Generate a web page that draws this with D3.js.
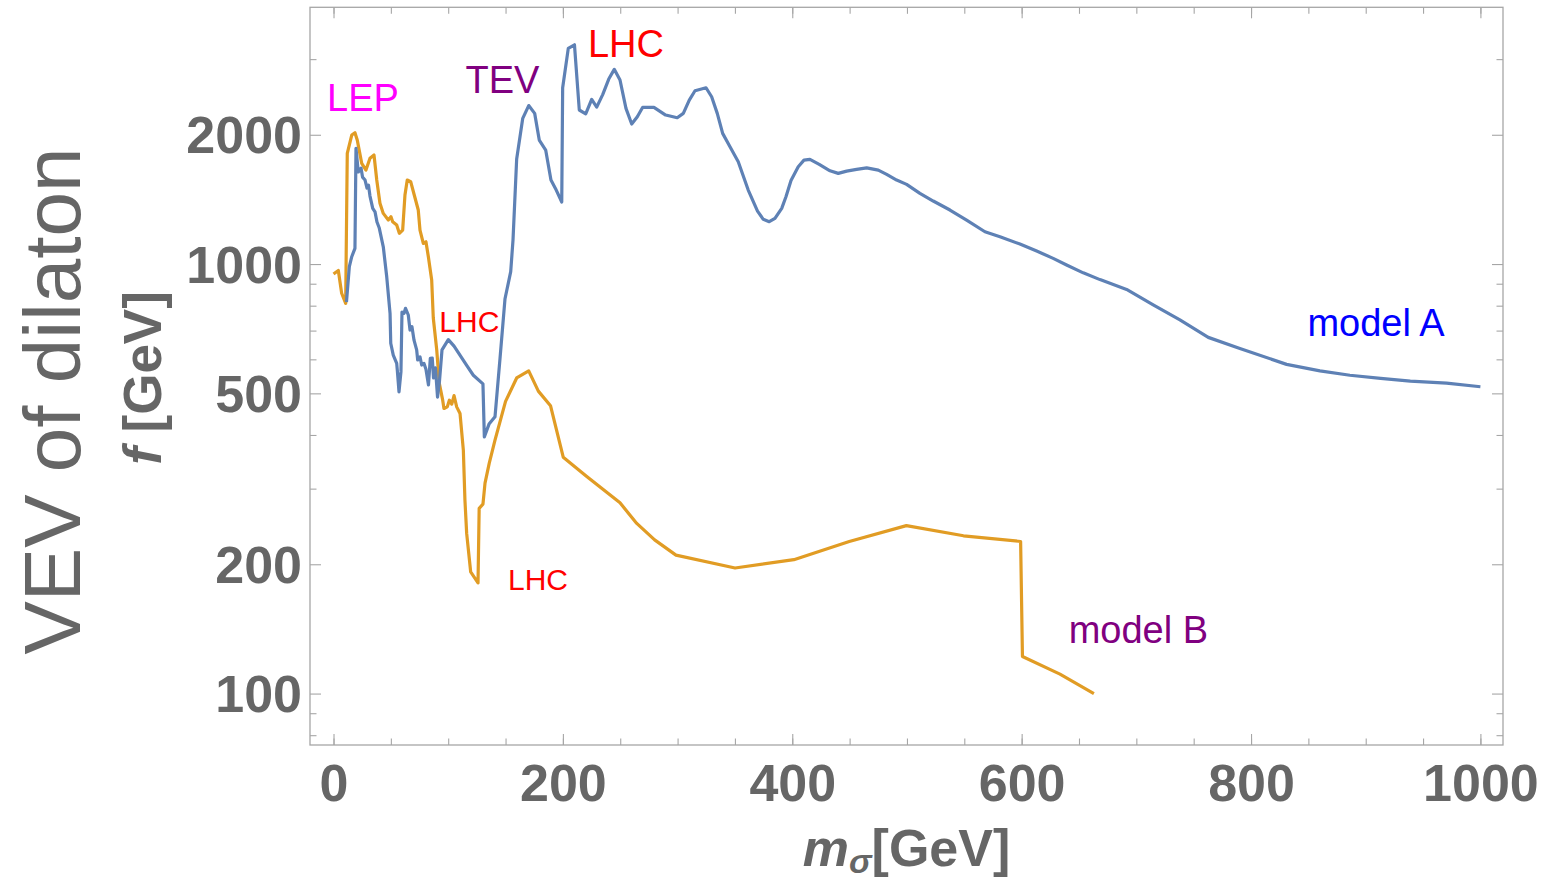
<!DOCTYPE html>
<html>
<head>
<meta charset="utf-8">
<script src="https://cdn.jsdelivr.net/npm/d3@7"></script>
<style>
  html, body { margin: 0; padding: 0; background: #fff; }
  svg { display: block; font-family: "Liberation Sans", Arial, Helvetica, sans-serif; }
</style>
</head>
<body>
<svg id="chart" width="1543" height="886"></svg>
<script>
// ---------------- data ----------------
const modelA_mass = [11.3,13.8,15.9,18.7,19.6,21.6,24.0,25.3,27.5,29.2,30.5,31.8,34.2,36.2,37.9,39.9,43.4,46.4,49.3,
  49.9,52.1,55.1,55.6,57.1,58.8,59.7,61.5,62.8,65.2,66.7,68.4,70.2,72.5,73.4,75.4,76.9,78.9,80.6,82.8,84.4,86.1,87.2,88.9,90.7,92.4,94.6,
  100.1,105.1,116.4,121.9,130.3,131.5,135.6,140.8,145.2,149.5,154.5,156.5,159.7,165,170.2,175.4,179.4,185,189.6,194.2,199,
  199.8,204.7,210.1,214.3,219.9,225.1,229.5,234.7,240,244.8,249.8,255,260,264.9,269.6,279.4,289.6,299.7,305,310.2,315.2,324.8,
  329.7,334.6,339.3,345.7,352.9,361.6,369.7,374.7,379.9,384.9,390.8,394.5,398.9,405.2,410.2,415.4,423.5,432.9,440.1,447.4,
  456.1,464.9,475,482.3,491,499.7,511.3,522.9,537.5,552,568,581.1,598.5,613.1,627.5,639.2,653.7,668.3,691.5,714.7,738,762.7,
  790.3,831,860.1,886.2,913,938.9,970.5,1000];
const modelA_f = [815,986,1040,1088,1860,1638,1673,1594,1569,1503,1527,1440,1348,1323,1253,1213,1097,934,768,
  654,614,587,567,504,561,773,768,789,761,702,715,665,631,598,608,582,587,569,523,603,604,543,573,490,534,631,
  667,644,579,551,526,396,424,441,604,829,960,1137,1756,2184,2339,2243,1944,1843,1569,1487,1395,
  2572,3178,3240,2284,2238,2418,2320,2481,2696,2840,2682,2304,2118,2203,2317,2317,2223,2191,2243,2409,2532,2573,
  2452,2243,2015,1876,1731,1487,1328,1271,1255,1278,1348,1435,1565,1685,1746,1753,1707,1649,1626,1646,
  1661,1675,1655,1617,1569,1533,1461,1402,1336,1266,1189,1158,1113,1072,1031,995,954,920,873,803,741,675,
  636,584,564,551,542,534,528,518];

const modelB_mass = [0,4.2,7.1,10.6,12.0,15.9,18.7,20.7,24.6,28.3,31.8,35.3,37.7,40.5,43.4,47.8,50.1,51.6,55.1,57.4,60.3,
  62.3,64.3,67.3,70.4,73.9,75.4,78.3,80.6,82.7,85.6,87.0,90.0,92.2,95.2,96.3,99.2,101.0,103.1,105.1,107.4,110.3,113.2,114.6,
  116.1,119.6,126.0,127.0,130.3,132.1,135.8,140.8,150,159.7,170.2,178.6,189.2,200.3,220.8,249.8,264.4,280,298.6,350.1,401.4,
  449.7,499.5,549.3,599.1,600.7,633.4,663];
const modelB_f = [948,966,855,810,1810,1997,2022,1944,1716,1655,1763,1794,1569,1385,1312,1266,1289,1255,1233,1179,1200,
  1448,1569,1555,1448,1336,1200,1117,1127,1040,918,749,631,528,482,461,465,482,472,494,465,449,369,282,
  236,192,181,270,276,309,344,389,479,543,564,506,468,355,320,278,249,228,210,196,205,
  226,246,233,226,122,111,100];

const xMajorTicks = [0, 200, 400, 600, 800, 1000];
const xMinorTicks = [0,50,100,150,200,250,300,350,400,450,500,550,600,650,700,750,800,850,900,950,1000];
const yMajorTicks = [100, 200, 500, 1000, 2000];
const yMinorTicks = [80, 90, 300, 400, 600, 700, 800, 900, 3000];

const annotations = [
  {text: "LEP",     mass: 25.7,  f: 2271, color: "#FF00FF", big: true},
  {text: "TEV",     mass: 147.3, f: 2497, color: "#800080", big: true},
  {text: "LHC",     mass: 255,   f: 3039, color: "#FF0000", big: true},
  {text: "LHC",     mass: 118.4, f: 693,  color: "#FF0000", big: false},
  {text: "LHC",     mass: 178.3, f: 174,  color: "#FF0000", big: false},
  {text: "model A", mass: 909,   f: 680,  color: "#0000FF", big: true},
  {text: "model B", mass: 701.8, f: 131,  color: "#800080", big: true}
];

// ---------------- layout ----------------
const L = 310, R = 1503, T = 7.3, B = 745;
const svg = d3.select("#chart");
const x = d3.scaleLinear().domain([-20.5, 1019.7]).range([L, R]);
const y = d3.scaleLog().domain([75.9, 3961]).range([B, T]);

const gray = "#666666";
const frameColor = "#a6a6a6";

// frame
svg.append("rect").attr("x", L).attr("y", T).attr("width", R - L).attr("height", B - T)
  .attr("fill", "none").attr("stroke", frameColor).attr("stroke-width", 1.3);

function styleAxis(g) {
  g.select(".domain").remove();
  g.selectAll(".tick line").attr("stroke", frameColor).attr("stroke-width", 1.1);
}

// minor ticks (all four sides)
svg.append("g").attr("transform", `translate(0,${B})`)
  .call(d3.axisBottom(x).tickValues(xMinorTicks).tickSize(-6.5).tickFormat(""))
  .call(styleAxis);
svg.append("g").attr("transform", `translate(0,${T})`)
  .call(d3.axisTop(x).tickValues(xMinorTicks).tickSize(-6.5).tickFormat(""))
  .call(styleAxis);
svg.append("g").attr("transform", `translate(${L},0)`)
  .call(d3.axisLeft(y).tickValues(yMinorTicks).tickSize(-6.5).tickFormat(""))
  .call(styleAxis);
svg.append("g").attr("transform", `translate(${R},0)`)
  .call(d3.axisRight(y).tickValues(yMinorTicks).tickSize(-6.5).tickFormat(""))
  .call(styleAxis);

// major ticks
const xb = svg.append("g").attr("transform", `translate(0,${B})`)
  .call(d3.axisBottom(x).tickValues(xMajorTicks).tickSize(-11).tickPadding(19).tickFormat(d3.format("d")))
  .call(styleAxis);
svg.append("g").attr("transform", `translate(0,${T})`)
  .call(d3.axisTop(x).tickValues(xMajorTicks).tickSize(-11).tickFormat(""))
  .call(styleAxis);
const yl = svg.append("g").attr("transform", `translate(${L},0)`)
  .call(d3.axisLeft(y).tickValues(yMajorTicks).tickSize(-11).tickPadding(8).tickFormat(d3.format("d")))
  .call(styleAxis);
svg.append("g").attr("transform", `translate(${R},0)`)
  .call(d3.axisRight(y).tickValues(yMajorTicks).tickSize(-11).tickFormat(""))
  .call(styleAxis);

[xb, yl].forEach(g => g.selectAll(".tick text")
  .attr("fill", gray).style("font-size", "52px").style("font-weight", "bold")
  .style("font-family", '"Liberation Sans", Arial, sans-serif'));
yl.selectAll(".tick text").attr("dy", "0.35em");

// lines
const line = d3.line().x(d => x(d[0])).y(d => y(d[1]));
const dataA = modelA_mass.map((m, i) => [m, modelA_f[i]]);
const dataB = modelB_mass.map((m, i) => [m, modelB_f[i]]);

svg.append("path").datum(dataB).attr("d", line)
  .attr("fill", "none").attr("stroke", "#E19C24").attr("stroke-width", 3.2)
  .attr("stroke-linejoin", "round");
svg.append("path").datum(dataA).attr("d", line)
  .attr("fill", "none").attr("stroke", "#5E81B5").attr("stroke-width", 3.2)
  .attr("stroke-linejoin", "round");

// annotations
svg.selectAll("text.anno").data(annotations).enter().append("text")
  .attr("class", "anno")
  .attr("x", d => x(d.mass)).attr("y", d => y(d.f))
  .attr("text-anchor", "middle")
  .attr("fill", d => d.color)
  .style("font-size", d => d.big ? "38px" : "30px")
  .text(d => d.text);

// axis titles
const xt = svg.append("text").attr("x", (L + R) / 2).attr("y", 866)
  .attr("text-anchor", "middle").attr("fill", gray)
  .style("font-size", "52px").style("font-weight", "bold");
xt.append("tspan").style("font-style", "italic").text("m");
xt.append("tspan").style("font-style", "italic").style("font-size", "34px").attr("dy", 7).text("σ");
xt.append("tspan").attr("dy", -7).text("[GeV]");

const yt = svg.append("text").attr("transform", "translate(161,378) rotate(-90)")
  .attr("text-anchor", "middle").attr("fill", gray)
  .style("font-size", "53px").style("font-weight", "bold");
yt.append("tspan").style("font-style", "italic").text("f");
yt.append("tspan").text(" [GeV]");

svg.append("text").attr("transform", "translate(80,401) rotate(-90)")
  .attr("text-anchor", "middle").attr("fill", gray)
  .style("font-size", "80px")
  .text("VEV of dilaton");
</script>
</body>
</html>
